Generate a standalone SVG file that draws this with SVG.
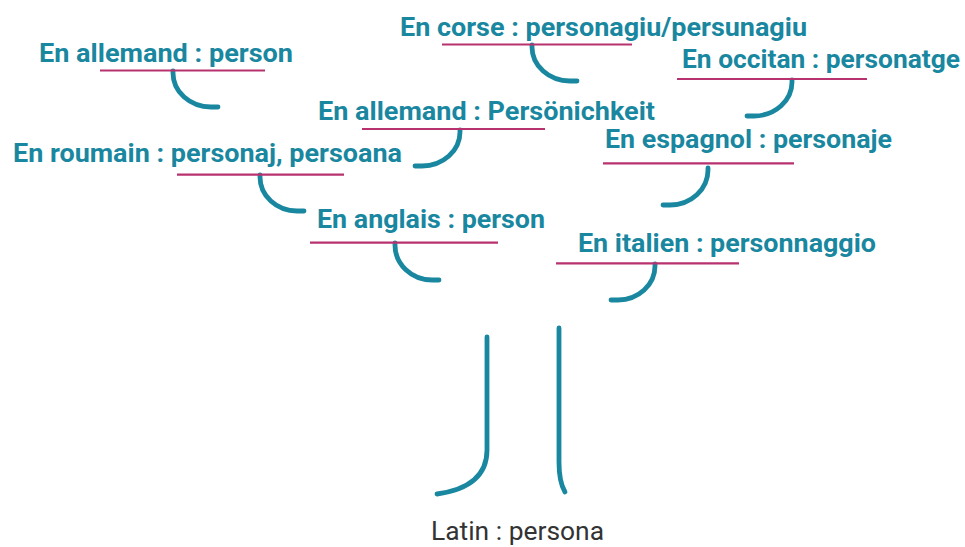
<svg xmlns="http://www.w3.org/2000/svg" width="965" height="547" viewBox="0 0 965 547">
<style>
.lbl{font-family:Roboto,"Liberation Sans",sans-serif;font-weight:700;font-size:26px;fill:#1a87a0}
.lat{font-family:Roboto,"Liberation Sans",sans-serif;font-weight:400;font-size:26px;fill:#333333}
.ul{stroke:#b8326f;stroke-width:2.2;fill:none}
.hk{stroke:#1a87a0;stroke-width:4.8;fill:none;stroke-linecap:round}
</style>
<rect width="965" height="547" fill="#ffffff"/>
<g id="connectors">
<path class="hk" d="M173,71 v2 A38,34 0 0 0 211,107 H218"/>
<path class="hk" d="M532,45 v2 A38,34 0 0 0 570,81 H577"/>
<path class="hk" d="M792,80 v2 A38,34 0 0 1 754,116 H747"/>
<path class="hk" d="M460,130 v2 A38,34 0 0 1 422,166 H415"/>
<path class="hk" d="M260,175 v2 A37,34 0 0 0 297,211 H304"/>
<path class="hk" d="M708,168 v2 A38,35 0 0 1 670,205 H663"/>
<path class="hk" d="M395,243 v2 A37,35 0 0 0 432,280 H439"/>
<path class="hk" d="M655,264 v2 A37,34 0 0 1 618,300 H611"/>
<path class="hk" d="M487,337 V450 Q487,487 437,494" stroke-linecap="butt"/>
<path class="hk" d="M559,328 V462 Q559,482 565,492" stroke-linecap="butt"/>
</g>
<g id="allemand-person">
<text class="lbl" x="39" y="62" textLength="254" lengthAdjust="spacingAndGlyphs">En allemand : person</text>
<line class="ul" x1="100" y1="70.5" x2="265" y2="70.5"/>
</g>
<g id="corse">
<text class="lbl" x="400" y="36" textLength="407" lengthAdjust="spacingAndGlyphs">En corse : personagiu/persunagiu</text>
<line class="ul" x1="442" y1="44.5" x2="632" y2="44.5"/>
</g>
<g id="occitan">
<text class="lbl" x="682" y="68" textLength="278" lengthAdjust="spacingAndGlyphs">En occitan : personatge</text>
<line class="ul" x1="677" y1="79" x2="867" y2="79"/>
</g>
<g id="allemand-personlichkeit">
<text class="lbl" x="318" y="120" textLength="337" lengthAdjust="spacingAndGlyphs">En allemand : Persönichkeit</text>
<line class="ul" x1="362" y1="129" x2="545" y2="129"/>
</g>
<g id="roumain">
<text class="lbl" x="13" y="162" textLength="389" lengthAdjust="spacingAndGlyphs">En roumain : personaj, persoana</text>
<line class="ul" x1="177" y1="174.7" x2="344" y2="174.7"/>
</g>
<g id="espagnol">
<text class="lbl" x="605" y="148" textLength="287" lengthAdjust="spacingAndGlyphs">En espagnol : personaje</text>
<line class="ul" x1="603" y1="163.3" x2="794" y2="163.3"/>
</g>
<g id="anglais">
<text class="lbl" x="317" y="228" textLength="228" lengthAdjust="spacingAndGlyphs">En anglais : person</text>
<line class="ul" x1="310" y1="242.7" x2="498" y2="242.7"/>
</g>
<g id="italien">
<text class="lbl" x="578" y="252" textLength="298" lengthAdjust="spacingAndGlyphs">En italien : personnaggio</text>
<line class="ul" x1="556" y1="263.3" x2="739" y2="263.3"/>
</g>
<g id="latin">
<text class="lat" x="431" y="540" textLength="173" lengthAdjust="spacingAndGlyphs">Latin : persona</text>
</g>
</svg>
